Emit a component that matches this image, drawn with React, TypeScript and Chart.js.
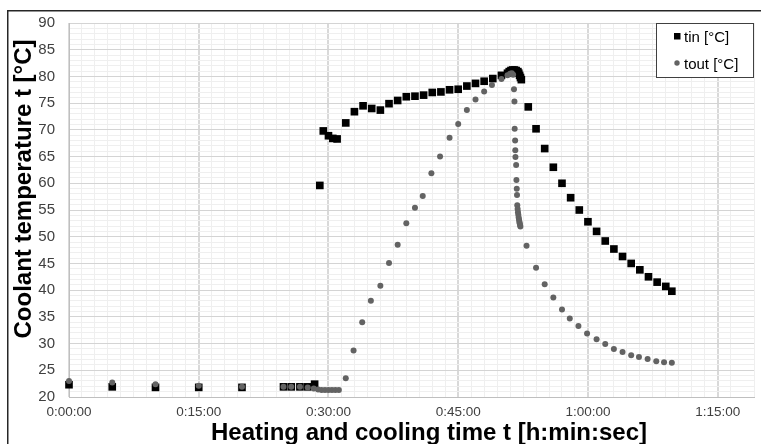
import React, { useEffect, useRef } from 'react';
import { Chart, registerables } from 'chart.js';

Chart.register(...registerables);

// time in minutes, temperature in °C
const tinTime = [
  0, 5, 10, 15, 20,
  24.8, 25.7, 26.7, 27.6, 28.4,
  29.0, 29.4, 30.0, 30.5, 31.0,
  32, 33, 34, 35, 36, 37, 38, 39, 40, 41, 42, 43, 44, 45, 46, 47, 48, 49, 50,
  50.7, 50.9, 51.1, 51.3, 51.5, 51.7, 51.9, 52.0, 52.1, 52.2, 52.3,
  53.1, 54, 55, 56, 57, 58, 59, 60, 61, 62, 63, 64, 65, 66, 67, 68, 69, 69.7,
];
const tinTemp = [
  22.3, 21.9, 21.8, 21.8, 21.8,
  21.9, 21.9, 21.9, 21.9, 22.4,
  59.6, 69.8, 68.9, 68.4, 68.3,
  71.3, 73.4, 74.5, 74.0, 73.7, 74.9, 75.5, 76.2, 76.3, 76.5, 77.0, 77.1, 77.5, 77.6, 78.2, 78.7, 79.1, 79.6, 80.2,
  80.6, 80.9, 81.1, 81.2, 81.2, 81.1, 80.9, 80.6, 80.2, 79.8, 79.4,
  74.3, 70.2, 66.5, 63.0, 60.0, 57.3, 55.0, 52.8, 51.0, 49.2, 47.7, 46.3, 45.0, 43.8, 42.5, 41.5, 40.7, 39.8,
];
const toutTime = [
  0, 5, 10, 15, 20,
  24.8, 25.7, 26.7, 27.6,
  28.3, 28.8, 29.2, 29.6, 30.0, 30.4, 30.8, 31.2,
  32.0, 32.9, 33.9, 34.9, 36.0, 37.0, 38.0, 39.0, 40.0, 40.9, 41.9, 42.9, 44.0, 45.0, 46.0, 47.0, 48.0, 48.9, 50.0,
  50.7, 51.0, 51.2, 51.35,
  51.45, 51.5, 51.53, 51.58, 51.6, 51.62, 51.7, 51.73, 51.77, 51.8,
  51.83, 51.87, 51.91, 51.95, 51.99, 52.03, 52.07, 52.11, 52.15, 52.19,
  52.9, 54.0, 55.0, 56.0, 57.0, 57.9, 58.9, 59.9, 61.0, 62.0, 63.0, 64.0, 65.0, 65.9, 66.9, 67.9, 68.8, 69.7,
];
const toutTemp = [
  23.0, 22.7, 22.4, 22.1, 21.9,
  21.9, 21.9, 21.9, 21.8,
  21.6, 21.4, 21.3, 21.3, 21.3, 21.3, 21.3, 21.3,
  23.5, 28.7, 34.0, 38.0, 40.8, 45.1, 48.5, 52.5, 55.4, 57.6, 61.9, 65.0, 68.5, 71.1, 73.7, 75.7, 77.2, 78.4, 79.5,
  80.2, 80.5, 80.6, 80.3,
  77.6, 75.3, 70.2, 68.0, 66.2, 64.9, 63.4, 60.6, 59.0, 57.8,
  55.9, 55.2, 54.6, 54.1, 53.6, 53.2, 52.8, 52.5, 52.2, 51.9,
  48.3, 44.2, 41.1, 38.6, 36.4, 34.7, 33.3, 31.9, 30.8, 29.9, 29.0, 28.4, 27.8, 27.5, 27.1, 26.7, 26.5, 26.4,
];

const xTickLabels = ['0:00:00', '0:15:00', '0:30:00', '0:45:00', '1:00:00', '1:15:00'];
const yTickLabels = ['20', '25', '30', '35', '40', '45', '50', '55', '60', '65', '70', '75', '80', '85', '90'];
const seriesNames = ['tin [°C]', 'tout [°C]'];
const xTitle = 'Heating and cooling time t [h:min:sec]';
const yTitle = 'Coolant temperature t [°C]';

const FONT = '"Liberation Sans", Arial, sans-serif';
const TIN_COLOR = '#000000';
const TOUT_COLOR = '#636363';

const isMult = (v: number, m: number) => Math.abs(v / m - Math.round(v / m)) < 1e-6;

const decorPlugin = {
  id: 'decor',
  beforeDraw(chart: any) {
    const ctx = chart.ctx;
    ctx.save();
    ctx.fillStyle = '#ffffff';
    ctx.fillRect(0, 0, chart.width, chart.height);
    ctx.restore();
  },
  afterDraw(chart: any) {
    const ctx = chart.ctx;
    const ca = chart.chartArea;
    ctx.save();
    // outer frame
    ctx.strokeStyle = '#262626';
    ctx.lineWidth = 1.5;
    ctx.beginPath();
    ctx.moveTo(7.75, chart.height + 2);
    ctx.lineTo(7.75, 10.75);
    ctx.lineTo(chart.width + 2, 10.75);
    ctx.stroke();

    // axis titles
    ctx.fillStyle = '#000000';
    ctx.font = 'bold 24px ' + FONT;
    ctx.textAlign = 'center';
    ctx.textBaseline = 'alphabetic';
    ctx.fillText(xTitle, 429, 440);
    ctx.save();
    ctx.translate(31, 189);
    ctx.rotate(-Math.PI / 2);
    ctx.fillText(yTitle, 0, 0);
    ctx.restore();

    // legend box
    const bx = ca.right - 98;
    const by = ca.top;
    ctx.fillStyle = '#ffffff';
    ctx.fillRect(bx, by, 98, 54);
    ctx.strokeStyle = '#404040';
    ctx.lineWidth = 1;
    ctx.strokeRect(Math.round(bx) + 0.5, Math.round(by) + 0.5, 97, 54);
    // entry 1
    ctx.fillStyle = TIN_COLOR;
    ctx.fillRect(bx + 18, by + 10, 6.5, 6.5);
    ctx.font = '15px ' + FONT;
    ctx.textAlign = 'left';
    ctx.fillStyle = '#000000';
    ctx.fillText(seriesNames[0], bx + 28, by + 18.5);
    // entry 2
    ctx.fillStyle = TOUT_COLOR;
    ctx.beginPath();
    ctx.arc(bx + 21, by + 40, 2.7, 0, Math.PI * 2);
    ctx.fill();
    ctx.fillStyle = '#000000';
    ctx.fillText(seriesNames[1], bx + 28, by + 45.5);
    ctx.restore();
  },
};

export default function App() {
  const canvasRef = useRef<HTMLCanvasElement | null>(null);

  useEffect(() => {
    if (!canvasRef.current) return;
    const chart = new Chart(canvasRef.current, {
      type: 'scatter',
      data: {
        datasets: [
          {
            label: seriesNames[0],
            data: tinTime.map((t, i) => ({ x: t, y: tinTemp[i] })),
            backgroundColor: TIN_COLOR,
            borderColor: TIN_COLOR,
            borderWidth: 0,
            pointStyle: 'rect',
            pointRadius: 5.4,
            pointHoverRadius: 5.4,
            clip: false,
            order: 1,
          },
          {
            label: seriesNames[1],
            data: toutTime.map((t, i) => ({ x: t, y: toutTemp[i] })),
            backgroundColor: TOUT_COLOR,
            borderColor: TOUT_COLOR,
            borderWidth: 0,
            pointStyle: 'circle',
            pointRadius: 3,
            pointHoverRadius: 3,
            clip: false,
            order: 0,
          },
        ],
      },
      options: {
        responsive: false,
        animation: false,
        devicePixelRatio: 1,
        layout: { padding: { top: 23, right: 1.4, bottom: 0, left: 0 } },
        plugins: {
          legend: { display: false },
          tooltip: { enabled: false },
          title: { display: false },
        },
        scales: {
          x: {
            type: 'linear',
            min: 0,
            max: 79.2,
            afterFit: (scale: any) => {
              scale.height = 47;
            },
            ticks: {
              stepSize: 1.5,
              autoSkip: false,
              maxRotation: 0,
              padding: 7,
              color: '#404040',
              font: { family: FONT, size: 13.5 },
              callback: (v: any) => {
                const n = Number(v);
                return isMult(n, 15) ? xTickLabels[Math.round(n / 15)] ?? '' : '';
              },
            },
            grid: {
              drawTicks: false,
              color: (c: any) => (c.tick && isMult(c.tick.value, 15) ? '#d9d9d9' : '#efefef'),
              lineWidth: (c: any) => (c.tick && isMult(c.tick.value, 15) ? 2 : 1),
            },
            border: { display: true, color: '#bfbfbf', width: 1 },
          },
          y: {
            type: 'linear',
            min: 20,
            max: 90,
            afterFit: (scale: any) => {
              scale.width = 69;
            },
            ticks: {
              stepSize: 1,
              autoSkip: false,
              padding: 14,
              color: '#404040',
              font: { family: FONT, size: 15 },
              callback: (v: any) => {
                const n = Number(v);
                return isMult(n, 5) ? yTickLabels[Math.round((n - 20) / 5)] ?? '' : '';
              },
            },
            grid: {
              drawTicks: false,
              color: (c: any) => (c.tick && isMult(c.tick.value, 5) ? '#d4d4d4' : '#efefef'),
              lineWidth: 1,
            },
            border: { display: true, color: '#bfbfbf', width: 1 },
          },
        },
      },
      plugins: [decorPlugin],
    } as any);
    return () => chart.destroy();
  }, []);

  return (
    <div style={{ position: 'fixed', left: 0, top: 0, width: 761, height: 444, overflow: 'hidden', background: '#fff' }}>
      <canvas ref={canvasRef} width={761} height={444} style={{ display: 'block', width: 761, height: 444 }} />
    </div>
  );
}
